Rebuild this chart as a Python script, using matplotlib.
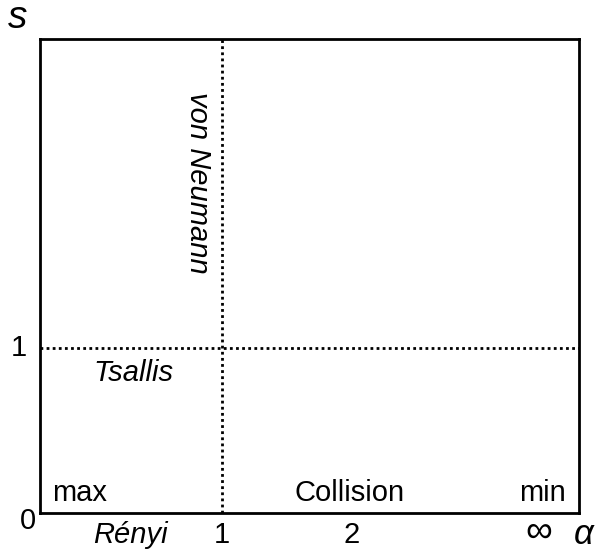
import matplotlib.pyplot as plt

plt.rcParams['font.family'] = ['Liberation Sans', 'DejaVu Sans']

# labels along the alpha axis
alpha_labels = ["1", "2", "\u221e"]
# names of the special entropies
bottom_names = ["max", "Collision", "min"]
renyi_label = "R\u00e9nyi"
tsallis_label = "Tsallis"
vn_label = "von Neumann"
s_tick = "1"
origin_label = "0"

fig = plt.figure(figsize=(6.07, 5.5), dpi=100)
ax = fig.add_axes([40 / 607, 1 - 513 / 550, 539 / 607, 474 / 550])
ax.set_xlim(0, 1)
ax.set_ylim(0, 1)
ax.set_xticks([])
ax.set_yticks([])
for sp in ax.spines.values():
    sp.set_linewidth(2.0)

# alpha = 1 and s = 1 lines (axis-fraction positions)
a1 = 0.338
s1 = 0.348
ax.axvline(a1, color='black', ls=(0, (1, 1.2)), lw=2.0)
ax.axhline(s1, color='black', ls=(0, (1, 1.2)), lw=2.0)

fs = 21
alpha_x = [0.338, 0.578, 0.925]
for x, lab in zip(alpha_x, alpha_labels):
    if lab == "\u221e":
        ax.text(x, -0.040, lab, ha='center', va='center', fontsize=27,
                transform=ax.transAxes, clip_on=False)
    else:
        ax.text(x, -0.047, lab, ha='center', va='center', fontsize=fs,
                transform=ax.transAxes, clip_on=False)
ax.text(1.008, -0.046, "\u03b1", ha='center', va='center', fontsize=25,
        style='italic', transform=ax.transAxes, clip_on=False)
ax.text(0.167, -0.047, renyi_label, ha='center', va='center', fontsize=fs,
        style='italic', transform=ax.transAxes, clip_on=False)
ax.text(-0.022, -0.017, origin_label, ha='center', va='center', fontsize=fs,
        transform=ax.transAxes, clip_on=False)
ax.text(-0.039, s1, s_tick, ha='center', va='center', fontsize=fs,
        transform=ax.transAxes, clip_on=False)
ax.text(-0.041, 1.045, "s", ha='center', va='center', fontsize=28,
        style='italic', transform=ax.transAxes, clip_on=False)

name_x = [0.074, 0.575, 0.933]
for x, lab in zip(name_x, bottom_names):
    ax.text(x, 0.042, lab, ha='center', va='center', fontsize=fs,
            transform=ax.transAxes)

ax.text(0.174, 0.295, tsallis_label, ha='center', va='center', fontsize=fs,
        style='italic', transform=ax.transAxes)
ax.text(0.293, 0.697, vn_label, ha='center', va='center', fontsize=fs,
        style='italic', rotation=-90, transform=ax.transAxes)

fig.savefig("out.png", dpi=100)
